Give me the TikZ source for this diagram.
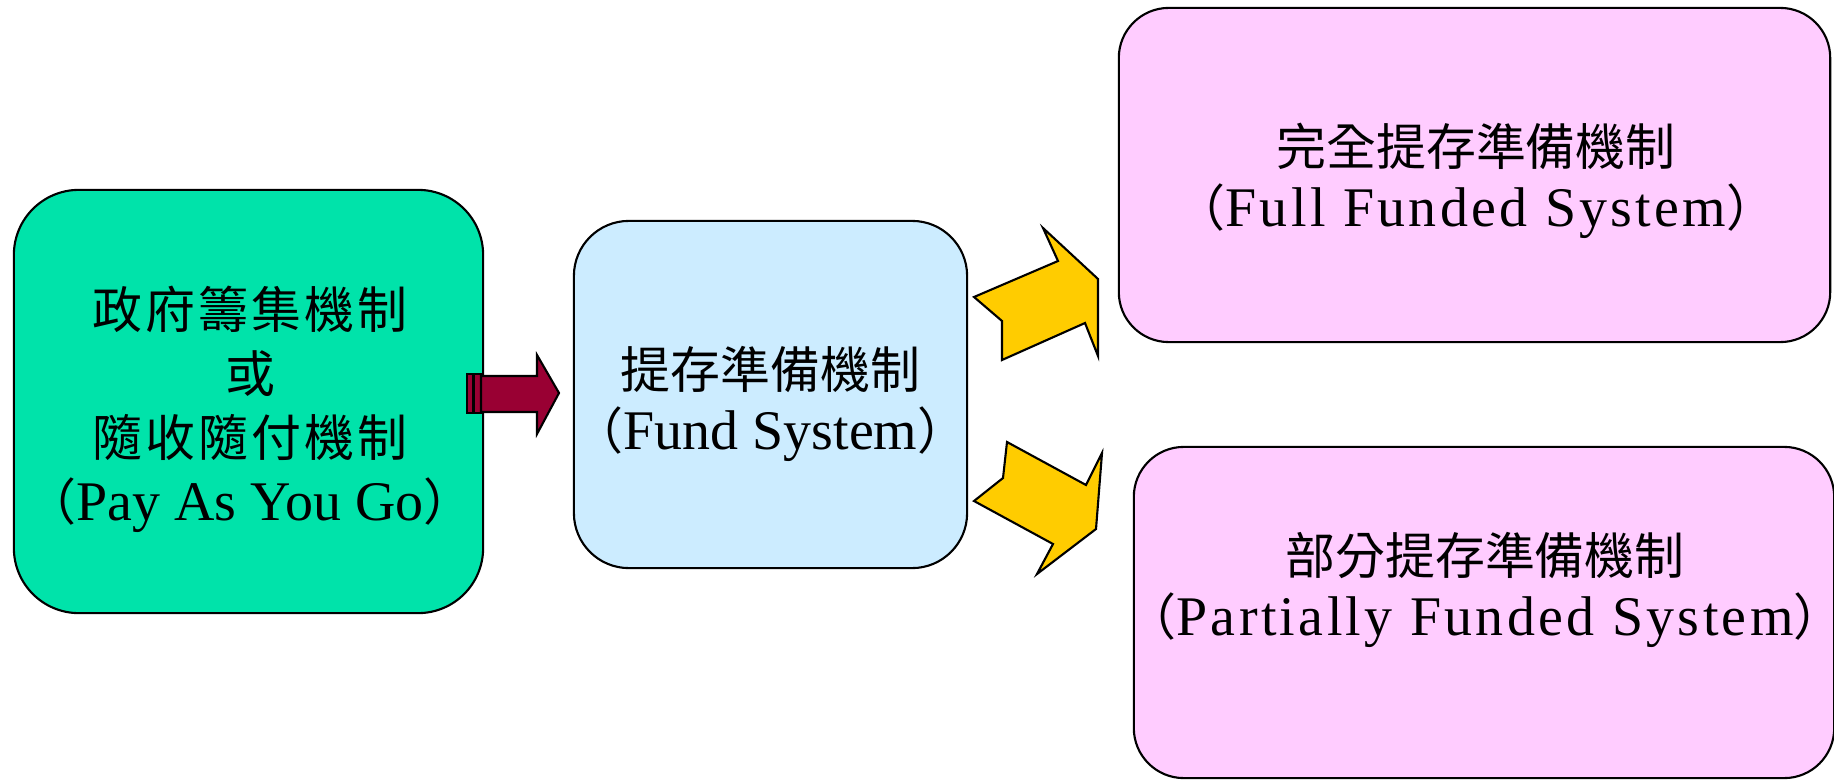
\documentclass[tikz,border=0pt]{standalone}
\usepackage{fontspec}
\usepackage{xcolor}
\usepackage{tikz}
\usetikzlibrary{positioning}
\newfontfamily\cjk{Noto Sans CJK TC}
\newfontfamily\cjkwide[LetterSpace=6]{Noto Sans CJK TC}
\newfontfamily\latn[Scale=1.12]{Liberation Serif}
\newfontfamily\latnwide[Scale=1.12,LetterSpace=6]{Liberation Serif}
\newcommand{\engname}[1]{{\cjk （}{\latn #1}{\cjk ）}}
\newcommand{\engnamewide}[1]{{\cjk （}{\latnwide #1}{\cjk ）}}
\definecolor{paygocolor}{RGB}{0,227,170}
\definecolor{fundcolor}{RGB}{204,236,255}
\definecolor{fundedcolor}{RGB}{255,204,255}
\definecolor{arrowred}{RGB}{153,0,51}
\definecolor{arrowyellow}{RGB}{255,204,0}

\begin{document}
\begin{tikzpicture}[x=0.01cm, y=-0.01cm,
    box/.style={draw, line width=0.6pt, inner sep=0pt, align=center,
        font=\fontsize{14.2pt}{17.2pt}\selectfont\cjk},
    boxtext/.style={inner sep=0pt, align=center,
        font=\fontsize{14.2pt}{17.2pt}\selectfont\cjk},
    blockarrow/.style={draw, line width=0.6pt, line join=miter}
]
\useasboundingbox (0,0) rectangle (1834,779);
\clip (0,0) rectangle (1834,779);

% Mechanism boxes
\node[box, fill=paygocolor, rounded corners=0.65cm, minimum width=4.69cm, minimum height=4.23cm] (paygo) at (248.5,401.5) {};
\node[boxtext, font=\fontsize{14.2pt}{18.2pt}\selectfont\cjk] (paygotext) at (250,409)
    {{\cjkwide 政府籌集機制}\\{\cjkwide 或}\\{\cjkwide 隨收隨付機制}\\\engname{Pay As You Go}};
\node[box, fill=fundcolor, rounded corners=0.55cm, minimum width=3.93cm, minimum height=3.47cm] (fund) at (770.5,394.5) {};
\node[boxtext] (fundtext) at (770.5,404)
    {提存準備機制\\\engname{Fund System}};
\node[box, fill=fundedcolor, rounded corners=0.5cm, minimum width=7.11cm, minimum height=3.34cm] (full) at (1474.5,175) {};
\node[boxtext] (fulltext) at (1476,181)
    {完全提存準備機制\\\engnamewide{Full Funded System}};
\node[box, fill=fundedcolor, rounded corners=0.5cm, minimum width=7.0cm, minimum height=3.31cm] (partial) at (1484,612.5) {};
\node[boxtext] (partialtext) at (1485,590)
    {部分提存準備機制\\\engnamewide{Partially Funded System}};

% Striped arrow
\draw[blockarrow, fill=arrowred] (467,374) rectangle (473,413);
\draw[blockarrow, fill=arrowred] (474,374) rectangle (481,413);
\draw[blockarrow, fill=arrowred] (481,376) -- (537,376) -- (537,355) -- (559,393)
    -- (537,434) -- (537,412) -- (481,412) -- cycle;

% Notched arrows
\draw[blockarrow, fill=arrowyellow] (974,297) -- (1058,261) -- (1043,228) -- (1098,279)
    -- (1098,356) -- (1085,323) -- (1002,360) -- (1002,321) -- cycle;
\draw[blockarrow, fill=arrowyellow] (1007,442) -- (1086,485) -- (1102,453) -- (1096,529)
    -- (1037,574) -- (1053,544) -- (974,501) -- (1003,478) -- cycle;

\end{tikzpicture}
\end{document}
